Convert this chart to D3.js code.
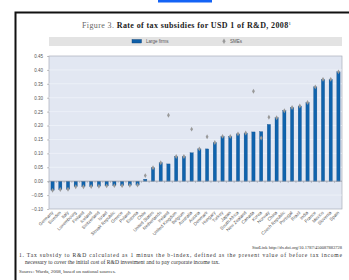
<!DOCTYPE html>
<html>
<head>
<meta charset="utf-8">
<script src="https://cdn.jsdelivr.net/npm/d3@7"></script>
<style>
  body { margin: 0; background: #fff; }
  svg { display: block; }
  .tick-label { font-family: "Liberation Sans", Arial, sans-serif; font-size: 4.5px; fill: #555; }
  .note { font-family: "Liberation Serif", "DejaVu Serif", serif; font-size: 5.6px; fill: #333; }
</style>
</head>
<body>
<div id="chart"></div>
<script>
// data
const countries = [
  "Germany", "Sweden", "Italy", "Luxembourg", "Finland", "Iceland", "Switzerland", "Israel",
  "Slovak Republic", "Greece", "Poland", "Estonia", "Chile", "United States", "Netherlands",
  "Ireland", "United Kingdom", "Belgium", "Australia", "Austria", "Denmark", "Hungary",
  "Turkey", "Japan", "South Africa", "New Zealand", "Canada", "Korea", "Norway", "China",
  "Czech Republic", "Portugal", "Brazil", "India", "France", "Mexico", "Slovenia", "Spain"
];
const largeFirms = [
  -0.033, -0.030, -0.029, -0.020, -0.020, -0.019, -0.018, -0.017,
  -0.016, -0.016, -0.015, -0.014, 0.007, 0.048, 0.066,
  0.062, 0.089, 0.089, 0.102, 0.116, 0.116, 0.139,
  0.161, 0.161, 0.170, 0.173, 0.177, 0.178, 0.204, 0.228,
  0.253, 0.265, 0.270, 0.283, 0.339, 0.366, 0.366, 0.393
];
const smes = [
  -0.033, -0.030, -0.029, -0.020, -0.020, -0.019, -0.018, -0.017,
  -0.016, -0.016, -0.015, -0.014, 0.020, 0.048, 0.066,
  0.237, 0.089, 0.089, 0.187, 0.116, 0.160, 0.139,
  0.161, 0.161, 0.170, 0.173, 0.323, 0.155, 0.230, 0.228,
  0.253, 0.265, 0.270, 0.283, 0.339, 0.366, 0.366, 0.393
];
const yTicks = [-0.10, -0.05, 0.00, 0.05, 0.10, 0.15, 0.20, 0.25, 0.30, 0.35, 0.40, 0.45];

const W = 349, H = 280;
const plot = { left: 49, right: 342, top: 56, bottom: 209 };

const svg = d3.select('#chart').append('svg')
  .attr('width', W)
  .attr('height', H);

// blue strip at the very top and the page frame
svg.append('rect').attr('x', 158).attr('y', 0).attr('width', 54).attr('height', 2.5).attr('fill', '#1463f5');
svg.append('rect').attr('x', 15.5).attr('y', 12.5).attr('width', 400).attr('height', 300)
  .attr('fill', '#fff').attr('stroke', '#111').attr('stroke-width', 2);

// title
const title = svg.append('text')
  .attr('x', 82).attr('y', 27.5)
  .attr('textLength', 209).attr('lengthAdjust', 'spacing')
  .style('font-family', '"Liberation Serif", "DejaVu Serif", serif')
  .style('font-size', '8px');
title.append('tspan').attr('fill', '#666').text('Figure 3.  ');
title.append('tspan').attr('fill', '#222').attr('font-weight', 'bold').text('Rate of tax subsidies for USD 1 of R&D, 2008');
title.append('tspan').attr('fill', '#222').attr('font-size', '4.8px').attr('dy', -2.8).text('1');

// legend band
svg.append('rect').attr('x', plot.left).attr('y', 37).attr('width', plot.right - plot.left).attr('height', 9)
  .attr('fill', '#e3e3e3');
svg.append('rect').attr('x', 132).attr('y', 39.5).attr('width', 9.5).attr('height', 3.5)
  .attr('fill', '#0f5fa8').attr('stroke', '#0b3f73').attr('stroke-width', 0.4);
svg.append('text').attr('class', 'tick-label').attr('x', 146).attr('y', 43).text('Large firms');
svg.append('path').attr('d', d3.symbol(d3.symbolDiamond, 9)())
  .attr('transform', 'translate(224,41.3)').attr('fill', '#9a9a9a');
svg.append('text').attr('class', 'tick-label').attr('x', 230).attr('y', 43).text('SMEs');

// scales
const x = d3.scaleBand()
  .domain(countries)
  .range([plot.left, plot.right])
  .paddingInner(0.58)
  .paddingOuter(0.25);

const y = d3.scaleLinear()
  .domain([-0.10, 0.45])
  .range([plot.bottom, plot.top]);

// plot background
svg.append('rect')
  .attr('x', plot.left).attr('y', plot.top)
  .attr('width', plot.right - plot.left).attr('height', plot.bottom - plot.top)
  .attr('fill', '#e2e7f2').attr('stroke', '#a9aebb').attr('stroke-width', 0.7);

// gridlines
svg.append('g')
  .selectAll('line')
  .data(yTicks.filter(d => d !== 0 && d !== -0.10 && d !== 0.45))
  .join('line')
  .attr('x1', plot.left).attr('x2', plot.right)
  .attr('y1', d => y(d)).attr('y2', d => y(d))
  .attr('stroke', '#f4f6fb').attr('stroke-width', 0.6);

// y axis
const yAxis = d3.axisLeft(y)
  .tickValues(yTicks)
  .tickSize(2)
  .tickPadding(4)
  .tickFormat(d3.format('.2f'));

svg.append('g')
  .attr('transform', `translate(${plot.left},0)`)
  .call(yAxis)
  .call(g => g.select('.domain').remove())
  .call(g => g.selectAll('line').attr('stroke', '#888').attr('stroke-width', 0.5))
  .call(g => g.selectAll('text').attr('class', 'tick-label').attr('font-size', null).attr('font-family', null));

// bars
svg.append('g')
  .selectAll('rect')
  .data(countries)
  .join('rect')
  .attr('x', d => x(d))
  .attr('width', x.bandwidth())
  .attr('y', (d, i) => y(Math.max(0, largeFirms[i])))
  .attr('height', (d, i) => Math.abs(y(largeFirms[i]) - y(0)))
  .attr('fill', '#0f63ad')
  .attr('stroke', '#0a4680')
  .attr('stroke-width', 0.3);

// zero line with ticks between bars
svg.append('line')
  .attr('x1', plot.left).attr('x2', plot.right)
  .attr('y1', y(0)).attr('y2', y(0))
  .attr('stroke', '#8d929c').attr('stroke-width', 0.7);

const step = x.step();
svg.append('g')
  .selectAll('line')
  .data(countries)
  .join('line')
  .attr('x1', d => x(d) - step * 0.29)
  .attr('x2', d => x(d) - step * 0.29)
  .attr('y1', y(0)).attr('y2', y(0) + 1.8)
  .attr('stroke', '#8d929c').attr('stroke-width', 0.5);

// SME markers
svg.append('g')
  .selectAll('path')
  .data(countries)
  .join('path')
  .attr('d', d3.symbol(d3.symbolDiamond, 7)())
  .attr('transform', (d, i) => `translate(${x(d) + x.bandwidth() / 2},${y(smes[i])})`)
  .attr('fill', '#999');

// x labels, rotated
svg.append('g')
  .selectAll('text')
  .data(countries)
  .join('text')
  .attr('class', 'tick-label')
  .attr('text-anchor', 'end')
  .attr('transform', d => `translate(${x(d) + x.bandwidth() / 2 + 1},${plot.bottom + 4}) rotate(-45)`)
  .text(d => d);

// statlink and notes
svg.append('text').attr('class', 'note')
  .attr('x', 342).attr('y', 249).attr('text-anchor', 'end')
  .style('font-size', '4.5px')
  .text('StatLink  http://dx.doi.org/10.1787/450087883728');

svg.append('text').attr('class', 'note').attr('x', 19).attr('y', 257)
  .attr('textLength', 323).attr('lengthAdjust', 'spacing')
  .text('1.  Tax subsidy to R&D calculated as 1 minus the b-index, defined as the present value of before tax income');
svg.append('text').attr('class', 'note').attr('x', 25).attr('y', 264)
  .text('necessary to cover the initial cost of R&D investment and to pay corporate income tax.');
svg.append('text').attr('class', 'note').attr('x', 19).attr('y', 273)
  .style('font-size', '5px')
  .text('Source:  Warda, 2008, based on national sources.');
</script>
</body>
</html>
